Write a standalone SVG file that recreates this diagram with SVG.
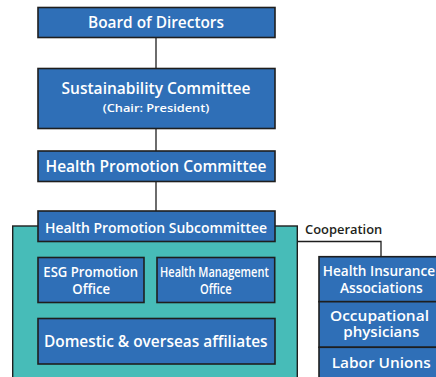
<svg xmlns="http://www.w3.org/2000/svg" width="436" height="377" viewBox="0 0 436 377">
<style>
.box{fill:#2f6fb7;stroke:#1e1e1e;stroke-width:1.6}
.t{fill:#fff;font-family:"Open Sans","Noto Sans",sans-serif;font-weight:600;text-anchor:middle}
.l{fill:none;stroke:#1e1e1e;stroke-width:1.3}
</style>
<rect width="436" height="377" fill="#fff"/>
<g id="connectors">
<line class="l" x1="156" y1="37" x2="156" y2="68"/>
<line class="l" x1="156" y1="128" x2="156" y2="151"/>
<line class="l" x1="156" y1="182" x2="156" y2="211"/>
<polyline class="l" points="297,241.5 381,241.5 381,257"/>
</g>
<g id="panel">
<rect x="12.7" y="226" width="284.6" height="160" fill="#47bcb8" stroke="#1e1e1e" stroke-width="1.4"/>
</g>
<g id="board"><rect class="box" x="38" y="7.5" width="237" height="30"/><text class="t" x="156" y="28" font-size="16" textLength="136" lengthAdjust="spacingAndGlyphs">Board of Directors</text></g>
<g id="sustainability"><rect class="box" x="38" y="68.5" width="237" height="60"/><text class="t" x="156" y="94" font-size="16" textLength="189" lengthAdjust="spacingAndGlyphs">Sustainability Committee</text><text class="t" x="156" y="112" font-size="11.5" textLength="106.7" lengthAdjust="spacingAndGlyphs">(Chair: President)</text></g>
<g id="hpc"><rect class="box" x="38" y="151" width="237" height="30.5"/><text class="t" x="156" y="171.7" font-size="15.5" textLength="221" lengthAdjust="spacingAndGlyphs">Health Promotion Committee</text></g>
<g id="hps"><rect class="box" x="38" y="211" width="237" height="30.5"/><text class="t" x="156" y="232.5" font-size="15" textLength="222" lengthAdjust="spacingAndGlyphs">Health Promotion Subcommittee</text></g>
<g id="esg"><rect class="box" x="38" y="257.5" width="106" height="45"/><text class="t" x="90.7" y="277.3" font-size="14" textLength="94.7" lengthAdjust="spacingAndGlyphs">ESG Promotion</text><text class="t" x="91.2" y="294.3" font-size="14" textLength="37.7" lengthAdjust="spacingAndGlyphs">Office</text></g>
<g id="hmo"><rect class="box" x="157" y="257.5" width="117.7" height="45"/><text class="t" x="214.4" y="277.3" font-size="14" textLength="108.7" lengthAdjust="spacingAndGlyphs">Health Management</text><text class="t" x="215.8" y="294.3" font-size="14" textLength="31.7" lengthAdjust="spacingAndGlyphs">Office</text></g>
<g id="affiliates"><rect class="box" x="38" y="318.5" width="237" height="45.5"/><text class="t" x="155.8" y="347.3" font-size="15.5" textLength="223.7" lengthAdjust="spacingAndGlyphs">Domestic &amp; overseas affiliates</text></g>
<text x="305" y="234" font-family="'Open Sans','Noto Sans',sans-serif" font-weight="600" font-size="12" fill="#231f20" textLength="77.3" lengthAdjust="spacingAndGlyphs">Cooperation</text>
<g id="hia"><rect class="box" x="319" y="256.7" width="125" height="45"/><text class="t" x="378.9" y="276" font-size="14" textLength="112.3" lengthAdjust="spacingAndGlyphs">Health Insurance</text><text class="t" x="381.3" y="292.7" font-size="14" textLength="82.7" lengthAdjust="spacingAndGlyphs">Associations</text></g>
<g id="phys"><rect class="box" x="319" y="301.7" width="125" height="45.6"/><text class="t" x="379.5" y="320.7" font-size="14" textLength="99" lengthAdjust="spacingAndGlyphs">Occupational</text><text class="t" x="381.3" y="337.3" font-size="14" textLength="76" lengthAdjust="spacingAndGlyphs">physicians</text></g>
<g id="labor"><rect class="box" x="319" y="347.3" width="125" height="40"/><text class="t" x="381.2" y="368.3" font-size="15" textLength="99" lengthAdjust="spacingAndGlyphs">Labor Unions</text></g>
</svg>
